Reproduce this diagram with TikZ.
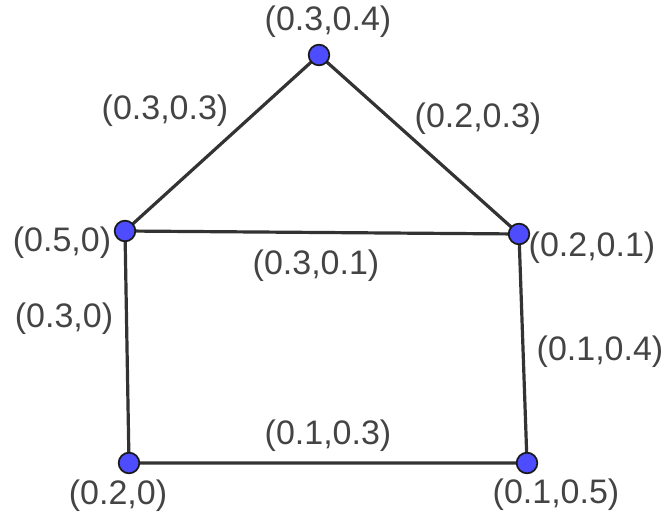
\documentclass[tikz,border=0pt]{standalone}
\usepackage{fontspec}
\setmainfont{Liberation Sans}
\definecolor{ptfill}{HTML}{4D4DFF}
\definecolor{ptline}{HTML}{1A1A1A}
\definecolor{edgecol}{HTML}{333333}
\definecolor{txtcol}{HTML}{444444}
\tikzset{
  pt/.style={circle, fill=ptfill, draw=ptline, line width=1.3pt, minimum size=15.5pt, inner sep=0pt},
  edge/.style={draw=edgecol, line width=2.4pt},
  lbl/.style={text=txtcol, font=\fontsize{25.5}{30}\selectfont, inner sep=0pt}
}
\begin{document}
\begin{tikzpicture}[x=0.75pt,y=-0.75pt]
\useasboundingbox (0,0) rectangle (668,517);
\coordinate (T) at (319,55);
\coordinate (L) at (125,231);
\coordinate (R) at (519,234);
\coordinate (BL) at (129,463);
\coordinate (BR) at (527,463);
\draw[edge] (L) -- (T) -- (R) -- (L) -- (BL) -- (BR) -- (R);
\node[pt] (t) at (T) {};
\node[pt] (l) at (L) {};
\node[pt] (r) at (R) {};
\node[pt] (bl) at (BL) {};
\node[pt] (br) at (BR) {};
\node[lbl] (lt) at (328,22) {(0.3,0.4)};
\node[lbl] (ltl) at (165,111) {(0.3,0.3)};
\node[lbl] (ltr) at (478,119) {(0.2,0.3)};
\node[lbl] (ll) at (62,243) {(0.5,0)};
\node[lbl] (lm) at (316,266) {(0.3,0.1)};
\node[lbl] (lr) at (592,248) {(0.2,0.1)};
\node[lbl] (lvl) at (64,319) {(0.3,0)};
\node[lbl] (lvr) at (600,352) {(0.1,0.4)};
\node[lbl] (lb) at (328,436) {(0.1,0.3)};
\node[lbl] (lbl) at (118,496) {(0.2,0)};
\node[lbl] (lbr) at (556,495) {(0.1,0.5)};
\end{tikzpicture}
\end{document}
